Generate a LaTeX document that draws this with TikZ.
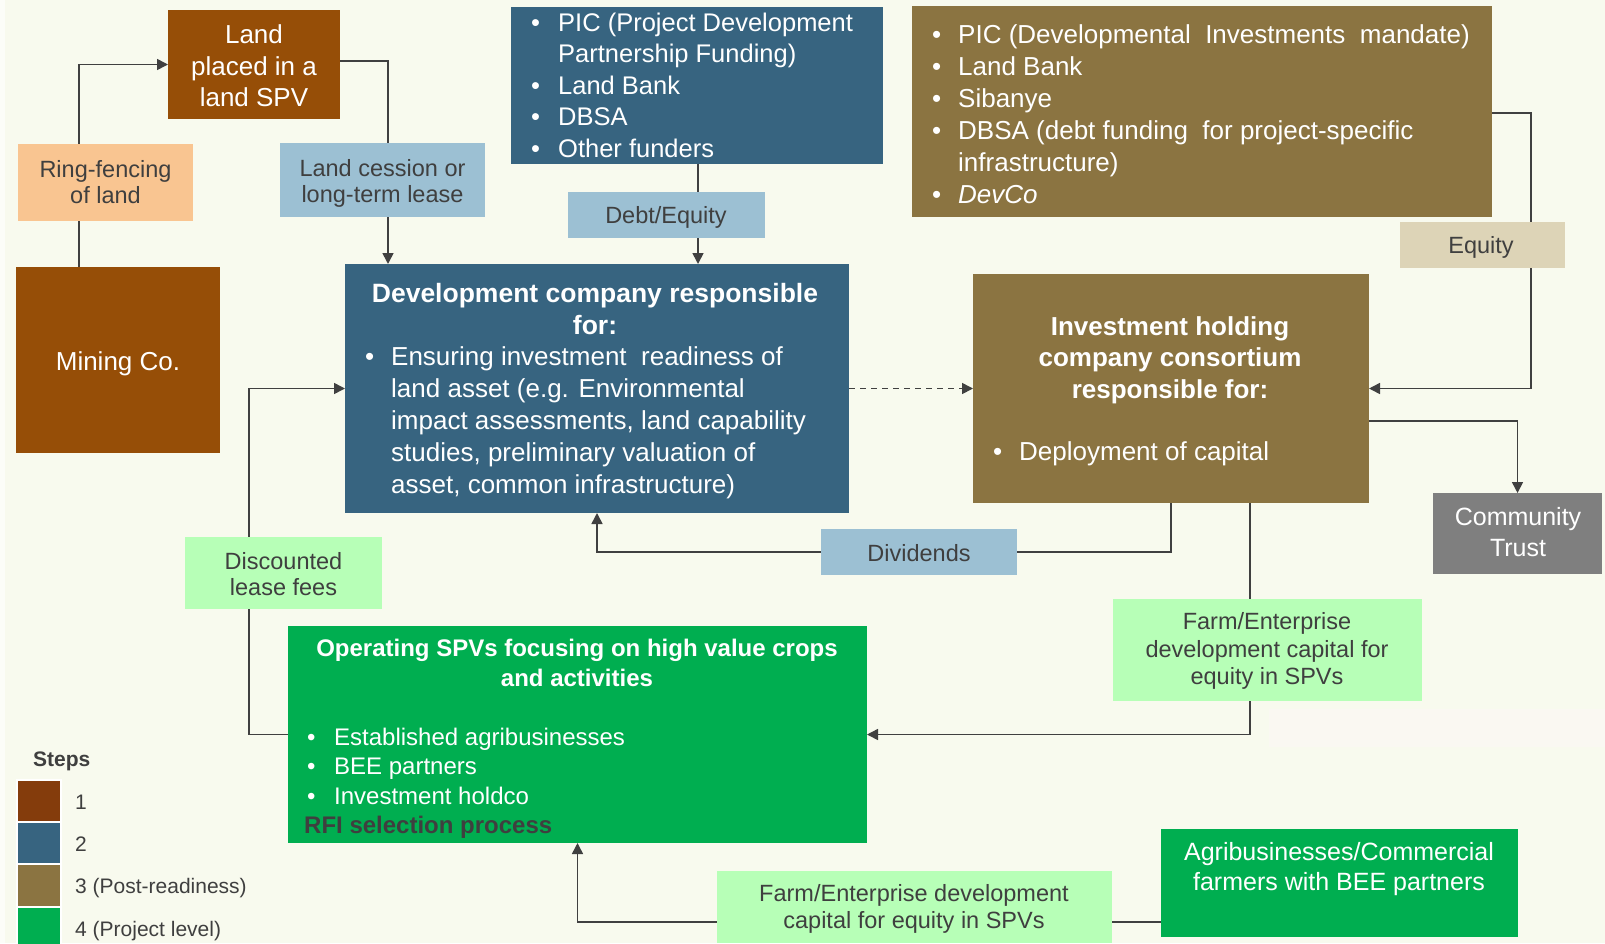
\documentclass[tikz,border=0pt]{standalone}
\usepackage{fontspec}
\setmainfont{Liberation Sans}
\usetikzlibrary{arrows.meta,calc}
\definecolor{bgc}{HTML}{F8FAEE}
\definecolor{brownA}{HTML}{964E07}
\definecolor{brownL}{HTML}{843C0C}
\definecolor{blueA}{HTML}{376480}
\definecolor{oliveA}{HTML}{8B7441}
\definecolor{greenA}{HTML}{00AE50}
\definecolor{lblue}{HTML}{9CC0D3}
\definecolor{peach}{HTML}{F9C591}
\definecolor{lgreen}{HTML}{B7FFB7}
\definecolor{tanA}{HTML}{DDD4B7}
\definecolor{grayA}{HTML}{7F7F7F}
\definecolor{lineC}{HTML}{404040}
\definecolor{textD}{HTML}{3F3F3F}
\definecolor{faintC}{HTML}{FAF8F2}
\pgfdeclarelayer{bglayer}
\pgfdeclarelayer{linelayer}
\pgfsetlayers{bglayer,linelayer,main}
\newcommand{\fsz}[2]{\fontsize{#1}{#2}\selectfont}
\newcommand{\bulitem}[1]{\makebox[#1][l]{•}}
\begin{document}
\begin{tikzpicture}[x=1pt,y=-1pt,
  box/.style={rectangle, inner sep=0pt, outer sep=0pt},
  txt/.style={inner sep=0pt, text=textD},
  wtxt/.style={inner sep=0pt, text=white},
  conn/.style={draw=lineC, line width=1.6pt},
  arr/.style={conn, -{Triangle[length=11pt,width=11pt]}}]
\useasboundingbox (0,0) rectangle (1605,943);
\begin{pgfonlayer}{bglayer}
\fill[bgc] (0,0) rectangle (1605,943);
\fill[white!60!bgc] (0,0) rectangle (5,943);
\end{pgfonlayer}

% boxes
\node[box, fill=brownA, minimum width=172pt, minimum height=109pt] (landspv) at (254,64.5) {};
\node[box, fill=peach, minimum width=175pt, minimum height=77pt] (ringfence) at (105.5,182.5) {};
\node[box, fill=brownA, minimum width=204pt, minimum height=186pt] (mining) at (118,360) {};
\node[box, fill=lblue, minimum width=205pt, minimum height=74pt] (cession) at (382.5,180) {};
\node[box, fill=blueA, minimum width=372pt, minimum height=157pt] (funders) at (697,85.5) {};
\node[box, fill=lblue, minimum width=197pt, minimum height=46pt] (debteq) at (666.5,215) {};
\node[box, fill=oliveA, minimum width=580pt, minimum height=211pt] (bfunders) at (1202,111.5) {};
\node[box, fill=tanA, minimum width=165pt, minimum height=46pt] (equity) at (1482.5,245) {};
\node[box, fill=blueA, minimum width=504pt, minimum height=249pt] (dev) at (597,388.5) {};
\node[box, fill=oliveA, minimum width=396pt, minimum height=229pt] (invest) at (1171,388.5) {};
\node[box, fill=grayA, minimum width=169pt, minimum height=81pt] (community) at (1517.5,533.5) {};
\node[box, fill=lblue, minimum width=196pt, minimum height=46pt] (dividends) at (919,552) {};
\node[box, fill=lgreen, minimum width=197pt, minimum height=72pt] (discount) at (283.5,573) {};
\node[box, fill=lgreen, minimum width=309pt, minimum height=102pt] (farmA) at (1267.5,650) {};
\node[box, fill=faintC, minimum width=336pt, minimum height=38pt] (faint) at (1437,728) {};
\node[box, fill=greenA, minimum width=579pt, minimum height=217pt] (op) at (577.5,734.5) {};
\node[box, fill=greenA, minimum width=357pt, minimum height=108pt] (agri) at (1339.5,883) {};
\node[box, fill=lgreen, minimum width=395pt, minimum height=72pt] (farmB) at (914.5,907) {};

% texts
\node[wtxt, align=center, font=\fsz{26}{31.5}] (landspvT) at (254,66) {Land\\placed in a\\land SPV};
\node[txt, align=center, font=\fsz{23.5}{26}] (ringfenceT) at (105.5,182) {Ring-fencing\\of land};
\node[wtxt, font=\fsz{26}{31}] (miningT) at (118,364) {Mining Co.};
\node[txt, align=center, font=\fsz{23.5}{26}] (cessionT) at (382.5,183) {Land cession or\\long-term lease};
\node[wtxt, anchor=west, align=left, font=\fsz{25.5}{31.5}] (fundersT) at (531,85) {\bulitem{27pt}PIC (Project Development\\\hspace*{27pt}Partnership Funding)\\\bulitem{27pt}Land Bank\\\bulitem{27pt}DBSA\\\bulitem{27pt}Other funders};
\node[txt, font=\fsz{23.5}{26}] (debteqT) at (666,217) {Debt/Equity};
\node[wtxt, anchor=west, align=left, font=\fsz{26}{31.9}] (bfundersT) at (932,114) {\bulitem{26pt}PIC (Developmental\ \ Investments\ \ mandate)\\\bulitem{26pt}Land Bank\\\bulitem{26pt}Sibanye\\\bulitem{26pt}DBSA (debt funding\ \ for project-specific\\\hspace*{26pt}infrastructure)\\\bulitem{26pt}\textit{DevCo}};
\node[txt, font=\fsz{23.5}{26}] (equityT) at (1481,247) {Equity};
\node[wtxt, align=center, font=\bfseries\fsz{26.5}{31.5}] (devT) at (595,309) {Development company responsible\\for:};
\node[wtxt, anchor=west, align=left, font=\fsz{26}{32}] (devB) at (365,423) {\bulitem{26pt}Ensuring investment\ \ readiness of\\\hspace*{26pt}land asset (e.g. Environmental\\\hspace*{26pt}impact assessments,\ land capability\\\hspace*{26pt}studies,\ preliminary\ valuation\ of\\\hspace*{26pt}asset, common infrastructure)};
\node[wtxt, align=center, font=\bfseries\fsz{26}{31.5}] (investT) at (1170,360) {Investment holding\\company consortium\\responsible for:};
\node[wtxt, anchor=west, font=\fsz{26}{32}] (investB) at (993,454) {\bulitem{26pt}Deployment of capital};
\node[wtxt, align=center, font=\fsz{25}{30.5}] (communityT) at (1518,532) {Community\\Trust};
\node[txt, font=\fsz{23.5}{26}] (dividendsT) at (919,553) {Dividends};
\node[txt, align=center, font=\fsz{23.5}{26.5}] (discountT) at (283.5,574) {Discounted\\lease fees};
\node[txt, align=center, font=\fsz{23.5}{27.8}] (farmAT) at (1267,651) {Farm/Enterprise\\development capital for\\equity in SPVs};
\node[wtxt, align=center, font=\bfseries\fsz{24}{29.6}] (opT) at (577,663) {Operating SPVs focusing on high value crops\\and activities};
\node[wtxt, anchor=west, align=left, font=\fsz{24}{29.5}] (opB) at (307,766) {\bulitem{27pt}Established agribusinesses\\\bulitem{27pt}BEE partners\\\bulitem{27pt}Investment holdco};
\node[txt, anchor=west, font=\bfseries\fsz{24}{29}] (rfiT) at (304,827) {RFI selection process};
\node[wtxt, align=center, font=\fsz{25}{30.4}] (agriT) at (1339,869) {Agribusinesses/Commercial\\farmers with BEE partners};
\node[txt, align=center, font=\fsz{23.5}{26.4}] (farmBT) at (914,909) {Farm/Enterprise development\\capital for equity in SPVs};

% legend
\node[txt, anchor=west, font=\bfseries\fsz{21}{25}] (stepsT) at (33,761) {Steps};
\node[box, fill=brownL, draw=white, line width=1.5pt, minimum width=44pt, minimum height=42pt] (sw1) at (39,801) {};
\node[box, fill=blueA, draw=white, line width=1.5pt, minimum width=44pt, minimum height=42pt] (sw2) at (39,843) {};
\node[box, fill=oliveA, draw=white, line width=1.5pt, minimum width=44pt, minimum height=42pt] (sw3) at (39,885.5) {};
\node[box, fill=greenA, draw=white, line width=1.5pt, minimum width=44pt, minimum height=42pt] (sw4) at (39,928) {};
\node[txt, anchor=west, font=\fsz{21}{25}] (lg1) at (75,802) {1};
\node[txt, anchor=west, font=\fsz{21}{25}] (lg2) at (75,844) {2};
\node[txt, anchor=west, font=\fsz{21}{25}] (lg3) at (75,888) {3 (Post-readiness)};
\node[txt, anchor=west, font=\fsz{21}{25}] (lg4) at (75,931) {4 (Project level)};

% connectors
\coordinate (cx1) at (698,0);
\coordinate (cx2) at (1531,0);
\coordinate (cx3) at (1250,0);
\begin{pgfonlayer}{linelayer}
\draw[arr] ([xshift=-39pt]mining.north) |- (landspv.west);
\draw[arr] ([yshift=3.5pt]landspv.east) -| ([xshift=43pt]dev.north west);
\draw[arr] (funders.south -| cx1) -- (dev.north -| cx1);
\draw[arr] ([yshift=-1.5pt]bfunders.east) -| (invest.east -| cx2) -- (invest.east);
\draw[arr, dash pattern=on 6pt off 5pt] (dev.east) -- (invest.west);
\draw[arr] ([yshift=-32.5pt]invest.east) -| (community.north);
\draw[arr] (invest.south) |- (dividends.east) -- (dividends.west) -| (dev.south);
\draw[arr] (invest.south -| cx3) |- (op.east);
\draw[arr] (op.west) -| ([xshift=-96pt]dev.west) -- (dev.west);
\draw[arr] ([yshift=-39pt]agri.west) -| (op.south);
\end{pgfonlayer}
\end{tikzpicture}
\end{document}
